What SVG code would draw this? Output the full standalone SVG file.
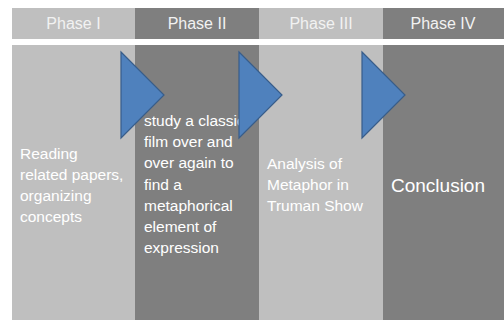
<svg xmlns="http://www.w3.org/2000/svg" width="504" height="320" viewBox="0 0 504 320">
<style>
.light{fill:#BFBFBF}
.dark{fill:#7F7F7F}
.hd{font-family:"Liberation Sans",Arial,sans-serif;font-size:16px;fill:#F2F2F2;text-anchor:middle}
.tx{font-family:"Liberation Sans",Arial,sans-serif;font-size:15.5px;fill:#FFFFFF}
.big{font-family:"Liberation Sans",Arial,sans-serif;font-size:19px;fill:#FFFFFF}
.arr{fill:#4F81BD;stroke:#385D8A;stroke-width:1.2}
</style>
<rect width="504" height="320" fill="#FFFFFF"/>
<g id="phase1">
<rect class="light" x="12" y="8" width="123" height="31"/>
<text class="hd" x="73.5" y="29">Phase I</text>
<rect class="light" x="12" y="45" width="123" height="275"/>
<text class="tx"><tspan x="20" y="159">Reading</tspan><tspan x="20" y="180">related papers,</tspan><tspan x="20" y="201">organizing</tspan><tspan x="20" y="222">concepts</tspan></text>
</g>
<g id="phase2">
<rect class="dark" x="135" y="8" width="124" height="31"/>
<text class="hd" x="197" y="29">Phase II</text>
<rect class="dark" x="135" y="45" width="124" height="275"/>
<text class="tx"><tspan x="144" y="126">study a classic</tspan><tspan x="144" y="147">film over and</tspan><tspan x="144" y="168">over again to</tspan><tspan x="144" y="190">find a</tspan><tspan x="144" y="211">metaphorical</tspan><tspan x="144" y="232">element of</tspan><tspan x="144" y="253">expression</tspan></text>
</g>
<g id="phase3">
<rect class="light" x="259" y="8" width="124" height="31"/>
<text class="hd" x="321" y="29">Phase III</text>
<rect class="light" x="259" y="45" width="124" height="275"/>
<text class="tx"><tspan x="267" y="169">Analysis of</tspan><tspan x="267" y="190">Metaphor in</tspan><tspan x="267" y="211">Truman Show</tspan></text>
</g>
<g id="phase4">
<rect class="dark" x="383" y="8" width="121" height="31"/>
<text class="hd" x="443" y="29">Phase IV</text>
<rect class="dark" x="383" y="45" width="121" height="275"/>
<text class="big" x="391" y="192">Conclusion</text>
</g>
<g id="connectors">
<polygon class="arr" points="121,52 164,95 121,138"/>
<polygon class="arr" points="239,52 282,95 239,138"/>
<polygon class="arr" points="362,52 405,95 362,138"/>
</g>
</svg>
